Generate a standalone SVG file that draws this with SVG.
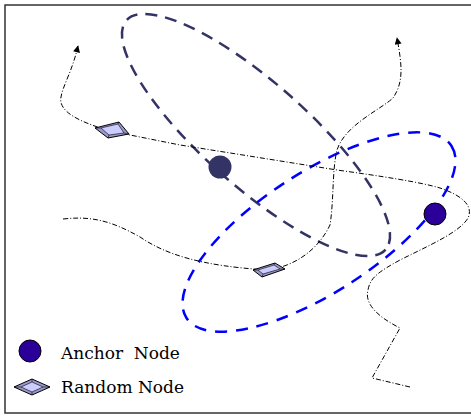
<svg xmlns="http://www.w3.org/2000/svg" width="471" height="416" viewBox="0 0 471 416">
  <defs>
    <marker id="arrow" viewBox="0 0 10 10" refX="9" refY="5" markerWidth="10" markerHeight="7" markerUnits="userSpaceOnUse" orient="auto">
      <path d="M0,0 L10,5 L0,10 z" fill="#000"/>
    </marker>
    <style>
      .frame { fill: #fff; stroke: #333; stroke-width: 1.5; }
      .track { fill: none; stroke: #000; stroke-width: 1; stroke-dasharray: 5 2 1 2; }
      .zone-a { fill: none; stroke: #333366; stroke-width: 2.5; stroke-dasharray: 12 8; }
      .zone-b { fill: none; stroke: #0000ff; stroke-width: 2.5; stroke-dasharray: 12 9; }
      .anchor { fill: #2a0099; stroke: #000; stroke-width: 1; }
      .anchor-dark { fill: #333366; stroke: none; }
      .rn-outer { fill: #9999cc; stroke: #000; stroke-width: 1; stroke-linejoin: round; }
      .rn-inner { fill: #ccccff; stroke: #000; stroke-width: 0.6; }
      .rn-bevel { stroke: #000; stroke-width: 0.6; }
      .label { font-family: "DejaVu Serif", "Liberation Serif", serif; font-size: 17px; fill: #000; white-space: pre; }
    </style>
  </defs>

  <rect class="frame" x="5" y="5" width="472" height="408"/>

  <!-- coverage regions -->
  <g id="regions">
    <ellipse class="zone-a" cx="256" cy="135" rx="173" ry="52" transform="rotate(41.5 256 135)"/>
    <ellipse class="zone-b" cx="319" cy="232" rx="158" ry="60" transform="rotate(-33 319 232)"/>
  </g>

  <!-- node trajectories -->
  <g id="connectors">
    <path class="track" marker-end="url(#arrow)"
          d="M410,387 L372,378 L400,328 C380,318 364,305 368,290 C370,278 378,272 400,260 C430,245 460,232 468,218 C475,203 455,193 440,188 C420,182 380,176 337,170 L180,145 L110,131 C80,122 58,112 61,97 C63,85 72,72 78,46"/>
    <path class="track" marker-end="url(#arrow)"
          d="M63,219 C90,216 110,220 140,237 C165,254 200,266 268,270 C295,266 318,250 330,225 C334,200 332,170 337,150 C345,125 380,110 393,98 C404,82 402,65 397,38"/>
  </g>

  <g id="node-anchor-1">
    <circle class="anchor-dark" cx="220" cy="167" r="11.5"/>
  </g>
  <g id="node-anchor-2">
    <circle class="anchor" cx="435" cy="214" r="11"/>
  </g>

  <g id="node-random-1">
    <polygon class="rn-outer" points="95,128 119,122 129,134 108,138"/>
    <polygon class="rn-inner" points="101,128 118,124 124,133 109,135"/>
    <path class="rn-bevel" d="M95,128 L101,128 M119,122 L118,124 M129,134 L124,133 M108,138 L109,135"/>
  </g>
  <g id="node-random-2">
    <polygon class="rn-outer" points="253,270 275,263 285,269 262,277"/>
    <polygon class="rn-inner" points="258,270 274,265 280,269 263,274"/>
    <path class="rn-bevel" d="M253,270 L258,270 M275,263 L274,265 M285,269 L280,269 M262,277 L263,274"/>
  </g>

  <!-- legend -->
  <g id="legend">
    <circle class="anchor" cx="30" cy="351" r="11"/>
    <text class="label" x="61" y="359">Anchor  Node</text>
    <polygon class="rn-outer" points="14,387 32,379 50,387 32,395"/>
    <polygon class="rn-inner" points="21,387 32,382 43,387 32,392"/>
    <path class="rn-bevel" d="M14,387 L21,387 M32,379 L32,382 M50,387 L43,387 M32,395 L32,392"/>
    <text class="label" x="61" y="393">Random Node</text>
  </g>
</svg>
